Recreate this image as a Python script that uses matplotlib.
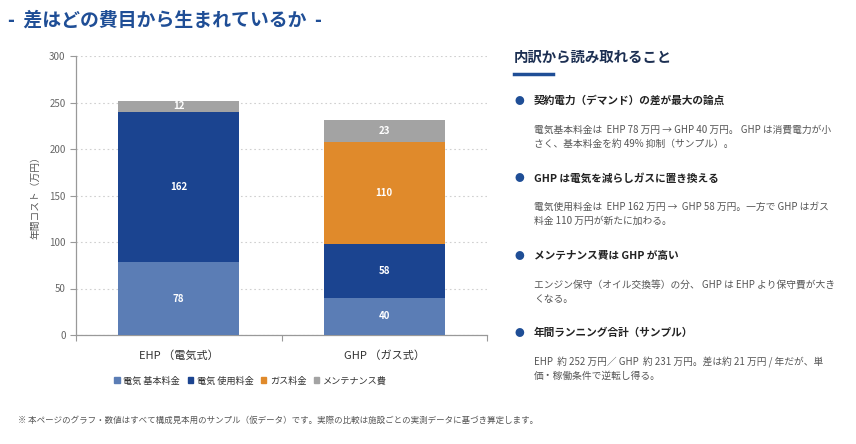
import matplotlib
matplotlib.use("Agg")
import matplotlib.pyplot as plt
from matplotlib.patches import Rectangle
from matplotlib.lines import Line2D
import numpy as np

plt.rcParams['font.family'] = ['Noto Sans CJK JP', 'DejaVu Sans']

categories = ["EHP （電気式）", "GHP （ガス式）"]
series_names = ["電気 基本料金", "電気 使用料金", "ガス料金", "メンテナンス費"]
elec_base = [78, 40]
elec_use = [162, 58]
gas = [0, 110]
maint = [12, 23]
series_vals = [elec_base, elec_use, gas, maint]
colors = ["#5b7db5", "#1b4490", "#e08a2b", "#a3a3a3"]

title = "-  差はどの費目から生まれているか  -"
panel_title = "内訳から読み取れること"
points = [
    ("契約電力（デマンド）の差が最大の論点",
     ["電気基本料金は  EHP 78 万円 → GHP 40 万円。 GHP は消費電力が小",
      "さく、基本料金を約 49% 抑制（サンプル）。"]),
    ("GHP は電気を減らしガスに置き換える",
     ["電気使用料金は  EHP 162 万円 →  GHP 58 万円。一方で GHP はガス",
      "料金 110 万円が新たに加わる。"]),
    ("メンテナンス費は GHP が高い",
     ["エンジン保守（オイル交換等）の分、 GHP は EHP より保守費が大き",
      "くなる。"]),
    ("年間ランニング合計（サンプル）",
     ["EHP  約 252 万円／ GHP  約 231 万円。差は約 21 万円 / 年だが、単",
      "価・稼働条件で逆転し得る。"]),
]
footnote = "※ 本ページのグラフ・数値はすべて構成見本用のサンプル（仮データ）です。実際の比較は施設ごとの実測データに基づき算定します。"

W, H = 856, 444
fig = plt.figure(figsize=(W / 100, H / 100), dpi=100)
fig.patch.set_facecolor("white")

ax = fig.add_axes([76 / W, 1 - 335 / H, (487 - 76) / W, (335 - 56) / H])
x = np.arange(len(categories))
bottom = np.zeros(len(categories))
for name, vals, c in zip(series_names, series_vals, colors):
    vals = np.array(vals, dtype=float)
    bars = ax.bar(x, vals, 0.59, bottom=bottom, color=c, label=name, zorder=3)
    labels = [f"{int(v)}" if v > 0 else "" for v in vals]
    ax.bar_label(bars, labels=labels, label_type="center", color="white",
                 fontsize=7, fontweight="bold")
    bottom += vals

ax.set_xlim(-0.5, 1.5)
ax.set_ylim(0, 300)
ax.set_yticks(np.arange(0, 301, 50))
ax.yaxis.grid(True, linestyle=(0, (1.5, 2.5)), color="#d0d0d0", linewidth=0.8, zorder=0)
ax.set_xticks([-0.5, 0.5, 1.5])
ax.set_xticklabels([])
ax.set_xticks(x, minor=True)
ax.set_xticklabels(categories, minor=True)
ax.tick_params(axis="x", which="minor", length=0, pad=11, labelsize=8, labelcolor="#333333")
ax.tick_params(axis="x", which="major", length=4, color="#999999")
ax.tick_params(axis="y", labelsize=7, labelcolor="#666666", color="#999999", length=4)
for s in ["top", "right"]:
    ax.spines[s].set_visible(False)
for s in ["left", "bottom"]:
    ax.spines[s].set_color("#999999")
    ax.spines[s].set_linewidth(0.9)
ax.set_ylabel("年間コスト（万円）", fontsize=7, color="#555555", labelpad=6)

handles = [Rectangle((0, 0), 1, 1, color=c) for c in colors]
fig.legend(handles, series_names, loc="center left", bbox_to_anchor=(106 / W, 1 - 381 / H),
           ncol=4, frameon=False, fontsize=6.6, handlelength=0.6, handleheight=0.6,
           handletextpad=0.4, columnspacing=0.8, labelcolor="#333333")

# Title
fig.text(8 / W, 1 - 20 / H, title, fontsize=13.6, fontweight="bold", color="#1f4e96",
         va="center", ha="left")

# Right panel
fig.text(514 / W, 1 - 58 / H, panel_title, fontsize=10.4, fontweight="bold", color="#1c2f52",
         va="center", ha="left")
fig.add_artist(Line2D([514 / W, 553 / W], [1 - 74 / H, 1 - 74 / H], color="#1f4e96",
                      linewidth=2.5, transform=fig.transFigure))

y0s = [101, 178, 256, 333]
for (head, body), y0 in zip(points, y0s):
    fig.text(519 / W, 1 - y0 / H, "●", fontsize=7, color="#1f4e96", va="center", ha="center")
    fig.text(534 / W, 1 - y0 / H, head, fontsize=7.7, fontweight="bold", color="#222222",
             va="center", ha="left")
    for i, line in enumerate(body):
        fig.text(534 / W, 1 - (y0 + 29 + 14 * i) / H, line, fontsize=7, color="#555555",
                 va="center", ha="left")

fig.text(18 / W, 1 - 420 / H, footnote, fontsize=6.1, color="#555555", style="italic",
         va="center", ha="left")

fig.savefig("out.png", dpi=100, facecolor="white")
